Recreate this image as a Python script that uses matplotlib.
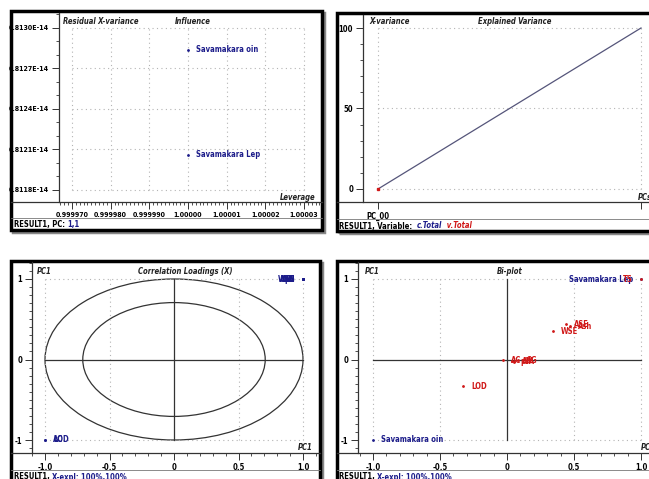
import numpy as np
import matplotlib
matplotlib.use("Agg")
from matplotlib import pyplot as plt
from matplotlib.patches import Rectangle, Ellipse
from matplotlib.lines import Line2D
from matplotlib.ticker import MultipleLocator

# ---- data ----
# influence plot: leverage vs residual X-variance (units of 1e-14)
infl_names = ["Savamakara oin", "Savamakara Lep"]
infl_leverage = [1.00000, 1.00000]
infl_resid = [0.81284, 0.81206]
infl_xticks = [0.999970, 0.999980, 0.999990, 1.00000, 1.00001, 1.00002, 1.00003]
infl_xlabels = ["0.999970", "0.999980", "0.999990", "1.00000", "1.00001", "1.00002", "1.00003"]
infl_yticks = [0.8118, 0.8121, 0.8124, 0.8127, 0.8130]
infl_ylabels = ["0.8118E-14", "0.8121E-14", "0.8124E-14", "0.8127E-14", "0.8130E-14"]

# explained variance
pcs = [0, 1]
xvar = [0, 100]

# variables: correlation loadings (PC1 vs PC1) and bi-plot positions
var_names = ["LOD", "AC", "WSE", "ASE", "Ash", "AIA", "pH", "SG", "TS"]
var_corr = [-1, -1, 1, 1, 1, 1, 1, 1, 1]
var_bx = [-0.33, -0.03, 0.34, 0.44, 0.47, 0.05, 0.04, 0.08, 1.0]
var_by = [-0.33, -0.01, 0.35, 0.44, 0.41, -0.03, -0.02, -0.01, 1.0]

# samples in bi-plot
smp_names = ["Savamakara oin", "Savamakara Lep"]
smp_x = [-1.0, 1.0]
smp_y = [-1.0, 1.0]

W, H = 649, 479
BLUE = "#1c1c8a"
RED = "#d01818"
DARK = "#333333"
GRID = "#b4b4b4"
DOT = (0, (1, 3))

plt.rcParams["font.family"] = ["DejaVu Sans"]
plt.rcParams["font.stretch"] = "condensed"
FS = 5.5
plt.rcParams["font.size"] = FS

fig = plt.figure(figsize=(W / 100, H / 100), dpi=100)


def fx(x):
    return x / W


def fy(y):
    return 1 - y / H


def rect(l, t, r, b):
    return [fx(l), fy(b), (r - l) / W, (b - t) / H]


def lims(p0, p1, a_px, a_val, b_px, b_val):
    s = (b_val - a_val) / (b_px - a_px)
    return a_val + (p0 - a_px) * s, a_val + (p1 - a_px) * s


def hline(x0, x1, y, lw=0.8, c=DARK):
    fig.add_artist(Line2D([fx(x0), fx(x1)], [fy(y), fy(y)], lw=lw, color=c))


def frame(l, t, r, b, bottom_line, status_line):
    fig.add_artist(Rectangle((fx(l) + 2 / W, fy(b) - 2 / H), (r - l) / W, (b - t) / H,
                             fc="none", ec="#888888", lw=2.5, zorder=-3))
    fig.add_artist(Rectangle((fx(l), fy(b)), (r - l) / W, (b - t) / H,
                             fc="white", ec="black", lw=2.5, zorder=-2))
    hline(l, r, bottom_line, lw=0.9)
    hline(l, r, status_line, lw=0.6, c="#777777")


def status(ax, x, y, first, second, third=None):
    t = fig.text(fx(x), fy(y), first, va="center", ha="left", fontsize=FS,
                 fontweight="bold", color="black")
    a = ax.annotate(second, xy=(1, 0), xycoords=t, va="bottom", ha="left", fontsize=FS,
                    fontweight="bold", color=BLUE, style="italic" if third else "normal")
    if third:
        ax.annotate("  " + third, xy=(1, 0), xycoords=a, va="bottom", ha="left",
                    fontsize=FS, fontweight="bold", color=RED, style="italic")


def style_axes(ax, size=FS):
    ax.set_facecolor("none")
    for s in ["top", "right", "bottom"]:
        ax.spines[s].set_visible(False)
    ax.spines["left"].set_color(DARK)
    ax.spines["left"].set_linewidth(0.9)
    ax.tick_params(which="major", direction="out", length=5, width=0.7, color=DARK,
                   labelsize=size, pad=2)
    ax.tick_params(which="minor", direction="out", length=2.5, width=0.6, color=DARK)
    for lab in ax.get_xticklabels() + ax.get_yticklabels():
        lab.set_fontweight("bold")


def label(ax, x, y, s, color):
    ax.plot([x], [y], ".", ms=2, color=color)
    if x < 0.9:
        ax.annotate(s, (x, y), xytext=(6, 0), textcoords="offset points", va="center",
                    ha="left", color=color, fontsize=FS, fontweight="bold")
    else:
        ax.annotate(s, (x, y), xytext=(-6, 0), textcoords="offset points", va="center",
                    ha="right", color=color, fontsize=FS, fontweight="bold")


def title(x, y, s, ha="left"):
    fig.text(fx(x), fy(y), s, ha=ha, va="center", style="italic", fontweight="bold",
             fontsize=FS, color="#222222")


# ---------------- panel 1: influence ----------------
frame(11, 11, 322, 230, 202, 218)
ax1 = fig.add_axes(rect(59, 13, 321, 202))
ax1.set_xlim(*lims(59, 321, 72, infl_xticks[0], 304, infl_xticks[-1]))
ax1.set_ylim(*lims(202, 13, 190, infl_yticks[0], 28, infl_yticks[-1]))
ax1.hlines(infl_yticks, infl_xticks[0], infl_xticks[-1], colors=GRID, lw=0.8, linestyles=DOT)
ax1.vlines(infl_xticks, infl_yticks[0], infl_yticks[-1], colors=GRID, lw=0.8, linestyles=DOT)
for n, lx, ly in zip(infl_names, infl_leverage, infl_resid):
    ax1.plot([lx], [ly], ".", ms=2, color=BLUE)
    ax1.annotate(n, (lx, ly), xytext=(6, 0), textcoords="offset points", va="center",
                 color=BLUE, fontsize=FS, fontweight="bold")
ax1.set_xticks(infl_xticks, infl_xlabels)
ax1.set_yticks(infl_yticks, infl_ylabels)
ax1.xaxis.set_minor_locator(MultipleLocator(0.000001))
ax1.yaxis.set_minor_locator(MultipleLocator(0.0001))
style_axes(ax1, size=5)
title(63, 22, "Residual X-variance")
title(175, 22, "Influence")
title(315, 197, "Leverage", ha="right")
status(ax1, 14, 225, "RESULT1, PC: ", "1,1")

# ---------------- panel 2: explained variance ----------------
frame(337, 13, 660, 231, 202, 219)
ax2 = fig.add_axes(rect(363, 15, 660, 202))
ax2.set_xlim(*lims(363, 660, 378, pcs[0], 641, pcs[1]))
ax2.set_ylim(*lims(202, 15, 189, 0, 28, 100))
ax2.hlines([0, 50, 100], pcs[0], pcs[1], colors=GRID, lw=0.8, linestyles=DOT)
ax2.vlines(pcs, 0, 100, colors=GRID, lw=0.8, linestyles=DOT)
ax2.plot(pcs, xvar, color="#55557a", lw=0.9)
ax2.plot(pcs[:1], xvar[:1], "s", ms=2, color=RED)
ax2.set_xticks(pcs, ["PC_00", ""])
ax2.set_yticks([0, 50, 100])
ax2.yaxis.set_minor_locator(MultipleLocator(10))
style_axes(ax2)
title(369, 22, "X-variance")
title(478, 22, "Explained Variance")
title(638, 197, "PCs")
status(ax2, 339, 226, "RESULT1, Variable:  ", "c.Total", "v.Total")


# ---------------- panels 3 and 4 share the -1..1 layout ----------------
def unit_axes(l, r, x_m1, x_p1):
    ax = fig.add_axes(rect(l, 262, r, 453))
    ax.set_xlim(*lims(l, r, x_m1, -1, x_p1, 1))
    ax.set_ylim(*lims(453, 262, 440, -1, 279, 1))
    ax.vlines([-1, -0.5, 0.5, 1], -1, 1, colors=GRID, lw=0.8, linestyles=DOT)
    ax.hlines([-1, 1], -1, 1, colors=GRID, lw=0.8, linestyles=DOT)
    ax.plot([-1, 1], [0, 0], color=DARK, lw=0.9)
    ax.plot([0, 0], [-1, 1], color=DARK, lw=0.9)
    ax.set_xticks([-1, -0.5, 0, 0.5, 1], ["-1.0", "-0.5", "0", "0.5", "1.0"])
    ax.set_yticks([-1, 0, 1], ["-1", "0", "1"])
    ax.xaxis.set_minor_locator(MultipleLocator(0.1))
    ax.yaxis.set_minor_locator(MultipleLocator(0.1))
    style_axes(ax)
    return ax


frame(11, 261, 320, 490, 453, 470)
ax3 = unit_axes(32, 319, 45, 303)
ax3.add_patch(Ellipse((0, 0), 2, 2, fill=False, ec=DARK, lw=0.9))
ax3.add_patch(Ellipse((0, 0), 2 * np.sqrt(0.5), 2 * np.sqrt(0.5), fill=False, ec=DARK, lw=0.9))
for n, c in zip(var_names, var_corr):
    label(ax3, c, c, n, BLUE)
title(37, 271, "PC1")
title(138, 271, "Correlation Loadings (X)")
title(313, 447, "PC1", ha="right")
status(ax3, 14, 477, "RESULT1, ", "X-expl: 100%,100%")

frame(337, 261, 660, 490, 453, 470)
ax4 = unit_axes(358, 660, 373, 641)
for n, x, y in zip(smp_names, smp_x, smp_y):
    label(ax4, x, y, n, BLUE)
for n, x, y in zip(var_names, var_bx, var_by):
    label(ax4, x, y, n, RED)
title(365, 271, "PC1")
title(497, 271, "Bi-plot")
title(641, 447, "PC1")
status(ax4, 339, 477, "RESULT1, ", "X-expl: 100%,100%")

fig.savefig("out.png", dpi=100)
